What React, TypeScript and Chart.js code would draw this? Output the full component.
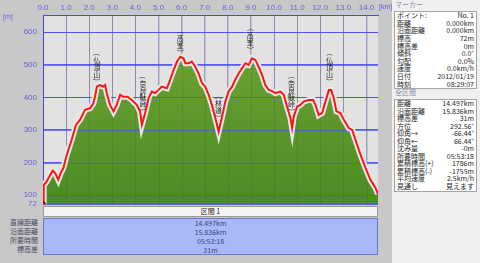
import React, { useEffect, useRef } from "react";
import { Chart, registerables } from "chart.js";

Chart.register(...registerables);

// ---- data ----
const distanceKm = [
  0.0, 0.03, 0.16, 0.3, 0.42, 0.52, 0.66, 0.77, 0.88, 1.03, 1.24, 1.43, 1.6, 1.82, 2.04, 2.18, 2.25, 2.33,
  2.47, 2.61, 2.69, 2.76, 2.9, 3.05, 3.19, 3.34, 3.48, 3.66, 3.84, 4.06, 4.2, 4.28, 4.42, 4.57, 4.71, 4.85,
  5.0, 5.14, 5.36, 5.5, 5.65, 5.8, 5.94, 6.08, 6.16, 6.3, 6.44, 6.59, 6.73, 6.88, 7.02, 7.17, 7.31, 7.46,
  7.6, 7.75, 7.89, 8.03, 8.18, 8.32, 8.47, 8.61, 8.76, 8.9, 9.04, 9.19, 9.33, 9.48, 9.62, 9.77, 9.9, 10.06,
  10.27, 10.42, 10.56, 10.71, 10.78, 10.85, 11.0, 11.14, 11.28, 11.5, 11.69, 11.79, 11.93, 12.08, 12.22,
  12.37, 12.47, 12.58, 12.7, 12.87, 13.02, 13.23, 13.38, 13.52, 13.74, 13.96, 14.17, 14.39, 14.497,
];
const elevationM = [
  72, 130, 142, 160, 175, 168, 147, 168, 183, 224, 270, 316, 331, 362, 367, 382, 402, 433,
  438, 433, 438, 413, 377, 357, 377, 408, 402, 402, 392, 377, 357, 316, 352, 398, 418, 413,
  423, 433, 428, 454, 484, 510, 525, 520, 505, 505, 510, 494, 474, 444, 433, 408, 377, 336,
  295, 341, 387, 418, 433, 454, 474, 489, 505, 500, 520, 515, 494, 469, 438, 423, 420, 413,
  418, 408, 372, 336, 306, 341, 372, 377, 387, 392, 392, 377, 346, 352, 387,
  423, 423, 398, 357, 352, 331, 306, 300, 270, 224, 183, 147, 122, 103,
];
const xTickValues = [0, 1, 2, 3, 4, 5, 6, 7, 8, 9, 10, 11, 12, 13, 14];
const yTickValues = [72, 100, 200, 300, 400, 500, 600];

const placeNames = ["仏頂山", "奈良駄峠", "高峯", "林道", "高峯", "奈良駄峠", "仏頂山"];
const placeKm = [2.34, 4.33, 5.94, 7.59, 8.97, 10.75, 12.4];
const placeLabelBaseM = [448, 356, 537, 337, 546, 356, 448];

const markerLabels = ["ポイント:", "距離", "沿面距離", "標高", "標高差", "傾斜", "勾配", "速度", "日付", "時刻"];
const markerValues = ["No. 1", "0.000km", "0.000km", "72m", "0m", "0.0°", "0.0%", "0.0km/h", "2012/01/19", "08:29:07"];

const totalLabels = ["距離", "沿面距離", "標高差", "方位", "仰角→", "仰角←", "沈み量", "所要時間", "累積標高(+)", "累積標高(-)", "平均速度", "見通し"];
const totalValues = ["14.497km", "15.836km", "31m", "292.56°", "-66.44°", "66.44°", "-0m", "05:53:18", "1786m", "-1755m", "2.5km/h", "見えます"];

const segmentTitle = "区間 1";
const segmentLabels = ["直線距離", "沿面距離", "所要時間", "標高差"];
const segmentValues = ["14.497km", "15.836km", "05:53:18", "31m"];

const JP = '"Noto Sans CJK JP", "Liberation Sans", sans-serif';
const TICK_COLOR = "#6464d4";

const bgPlugin = {
  id: "plotBg",
  beforeDraw(chart: any) {
    const { ctx, chartArea } = chart;
    ctx.save();
    ctx.fillStyle = "#e2e2e2";
    ctx.fillRect(chartArea.left, chartArea.top, chartArea.right - chartArea.left, chartArea.bottom - chartArea.top);
    ctx.restore();
  },
};

const gridOverFillPlugin = {
  id: "gridOverFill",
  afterDatasetDraw(chart: any, args: any) {
    if (args.index !== 2) return;
    const { ctx, chartArea, scales } = chart;
    ctx.save();
    ctx.beginPath();
    ctx.rect(chartArea.left, chartArea.top, chartArea.right - chartArea.left, chartArea.bottom - chartArea.top);
    ctx.clip();
    ctx.lineWidth = 1;
    ctx.strokeStyle = "rgba(40,60,60,0.16)";
    for (const v of xTickValues) {
      const x = Math.round(scales.x.getPixelForValue(v)) + 0.5;
      ctx.beginPath();
      ctx.moveTo(x, chartArea.top);
      ctx.lineTo(x, chartArea.bottom);
      ctx.stroke();
    }
    ctx.strokeStyle = "rgba(80,80,240,0.75)";
    for (const v of yTickValues) {
      if (v === yTickValues[0]) continue;
      const y = Math.round(scales.y.getPixelForValue(v)) + 0.5;
      ctx.beginPath();
      ctx.moveTo(chartArea.left, y);
      ctx.lineTo(chartArea.right, y);
      ctx.stroke();
    }
    ctx.restore();
  },
};

const placeLabelPlugin = {
  id: "placeLabels",
  afterDatasetsDraw(chart: any) {
    const { ctx, scales } = chart;
    ctx.save();
    ctx.fillStyle = "#2a2a2a";
    ctx.font = `7px ${JP}`;
    ctx.textAlign = "center";
    ctx.textBaseline = "middle";
    const charH = 7;
    const parenH = 4;
    placeNames.forEach((name, i) => {
      const x = scales.x.getPixelForValue(placeKm[i]);
      const bottom = scales.y.getPixelForValue(placeLabelBaseM[i]);
      const chars = Array.from(name);
      const total = chars.length * charH + parenH * 2;
      let y = bottom - total;
      ctx.save();
      ctx.translate(x, y + parenH / 2);
      ctx.rotate(Math.PI / 2);
      ctx.fillText("(", 0, 0);
      ctx.restore();
      y += parenH;
      for (const c of chars) {
        ctx.fillText(c, x, y + charH / 2);
        y += charH;
      }
      ctx.save();
      ctx.translate(x, y + parenH / 2);
      ctx.rotate(Math.PI / 2);
      ctx.fillText(")", 0, 0);
      ctx.restore();
    });
    ctx.restore();
  },
};

function ProfileChart() {
  const ref = useRef<HTMLCanvasElement | null>(null);
  useEffect(() => {
    if (!ref.current) return;
    const points = distanceKm.map((x, i) => ({ x, y: elevationM[i] }));
    const chart = new Chart(ref.current, {
      type: "line",
      data: {
        datasets: [
          {
            data: points,
            borderColor: "#ff1414",
            borderWidth: 2,
            fill: false,
            tension: 0,
            pointRadius: (c: any) => (c.dataIndex === 0 ? 2.5 : 0),
            pointBackgroundColor: "#d01010",
            pointBorderColor: "#401010",
            pointBorderWidth: 1,
          },
          {
            data: points,
            borderColor: "#e8e8e8",
            borderWidth: 6,
            fill: false,
            tension: 0,
            pointRadius: 0,
          },
          {
            data: points,
            borderWidth: 0,
            borderColor: "rgba(0,0,0,0)",
            fill: "start",
            tension: 0,
            pointRadius: 0,
            backgroundColor: (c: any) => {
              const { chart: ch } = c;
              const area = ch.chartArea;
              if (!area) return "#5e9a2c";
              const g = ch.ctx.createLinearGradient(0, area.top, 0, area.bottom);
              g.addColorStop(0, "#76a636");
              g.addColorStop(1, "#4a8c24");
              return g;
            },
          },
        ],
      },
      options: {
        animation: false,
        responsive: false,
        maintainAspectRatio: false,
        events: [],
        layout: { padding: { top: 0, left: 0, right: 14, bottom: 2 } },
        plugins: { legend: { display: false }, tooltip: { enabled: false } },
        scales: {
          x: {
            type: "linear",
            position: "top",
            min: 0,
            max: 14.497,
            afterBuildTicks: (s: any) => {
              s.ticks = xTickValues.map((v) => ({ value: v }));
            },
            afterFit: (s: any) => {
              s.height = 15;
            },
            ticks: {
              autoSkip: false,
              maxRotation: 0,
              padding: 2,
              color: TICK_COLOR,
              font: { size: 8, family: '"Liberation Sans", sans-serif' },
              callback: (v: any) => Number(v).toFixed(1),
            },
            grid: { color: "#9c9cc4", drawTicks: false, lineWidth: 1 },
            border: { color: "#4a4ae6", width: 1 },
          },
          y: {
            type: "linear",
            min: 72,
            max: 653,
            afterBuildTicks: (s: any) => {
              s.ticks = yTickValues.map((v) => ({ value: v }));
            },
            afterFit: (s: any) => {
              s.width = 43;
            },
            ticks: {
              autoSkip: false,
              padding: 6,
              color: TICK_COLOR,
              font: { size: 8, family: '"Liberation Sans", sans-serif' },
              callback: (v: any) => String(v),
            },
            grid: {
              color: "#5a5af0",
              drawTicks: false,
              lineWidth: (c: any) => (c.tick && c.tick.value === yTickValues[0] ? 2 : 1),
            },
            border: { color: "#4a4ae6", width: 1 },
          },
        },
      },
      plugins: [bgPlugin, gridOverFillPlugin, placeLabelPlugin],
    } as any);
    return () => chart.destroy();
  }, []);
  return (
    <canvas
      ref={ref}
      width={392}
      height={215}
      style={{ position: "absolute", left: 0, top: 0, width: 392, height: 215 }}
    />
  );
}

function InfoTable({ labels, values, top, rowH }: { labels: string[]; values: string[]; top: number; rowH: number }) {
  return (
    <div
      style={{
        position: "absolute",
        left: 394,
        top,
        width: 83,
        background: "#ffffff",
        border: "1px solid #a4a4a4",
        boxSizing: "border-box",
      }}
    >
      {labels.map((l, i) => (
        <div
          key={i}
          style={{
            display: "flex",
            justifyContent: "space-between",
            height: rowH,
            lineHeight: `${rowH}px`,
            fontSize: 7,
            padding: "0 2px 0 2px",
            color: "#1e1e1e",
            whiteSpace: "nowrap",
          }}
        >
          <span>{l}</span>
          <span>{values[i]}</span>
        </div>
      ))}
    </div>
  );
}

export default function App() {
  return (
    <div
      style={{
        position: "absolute",
        left: 0,
        top: 0,
        width: 480,
        height: 263,
        overflow: "hidden",
        background: "#c8c8c8",
        fontFamily: JP,
      }}
    >
      <ProfileChart />
      <div style={{ position: "absolute", left: 3, top: 13, fontSize: 7, color: TICK_COLOR, fontFamily: '"Liberation Sans", sans-serif' }}>[m]</div>
      <div style={{ position: "absolute", left: 379, top: 3, fontSize: 7, color: TICK_COLOR, fontFamily: '"Liberation Sans", sans-serif' }}>[km]</div>

      {/* segment block */}
      <div
        style={{
          position: "absolute",
          left: 43,
          top: 206,
          width: 335,
          height: 11,
          background: "#f3f3f3",
          border: "1px solid #9c9c9c",
          boxSizing: "border-box",
          fontSize: 7,
          lineHeight: "9px",
          textAlign: "center",
          color: "#2a2a2a",
        }}
      >
        {segmentTitle}
      </div>
      <div
        style={{
          position: "absolute",
          left: 43,
          top: 218,
          width: 335,
          height: 37,
          background: "#a8b8f8",
          border: "1px solid #6a76c6",
          boxSizing: "border-box",
        }}
      >
        {segmentValues.map((v, i) => (
          <div key={i} style={{ height: 9, lineHeight: "9px", fontSize: 7, textAlign: "center", color: "#3a4480" }}>
            {v}
          </div>
        ))}
      </div>
      <div style={{ position: "absolute", left: 0, top: 218, width: 38 }}>
        {segmentLabels.map((l, i) => (
          <div key={i} style={{ height: 9, lineHeight: "9px", fontSize: 7, textAlign: "right", color: "#4a4a66", whiteSpace: "nowrap" }}>
            {l}
          </div>
        ))}
      </div>

      {/* right panel */}
      <div style={{ position: "absolute", left: 392, top: 0, width: 88, height: 263, background: "#f0f0f0" }} />
      <div style={{ position: "absolute", left: 395, top: 0, fontSize: 7, lineHeight: "9px", color: "#8c8ca4" }}>マーカー</div>
      <InfoTable labels={markerLabels} values={markerValues} top={11} rowH={7.65} />
      <div style={{ position: "absolute", left: 395, top: 88, fontSize: 7, lineHeight: "9px", color: "#8c8ca4" }}>全区間</div>
      <InfoTable labels={totalLabels} values={totalValues} top={99} rowH={7.55} />
    </div>
  );
}
